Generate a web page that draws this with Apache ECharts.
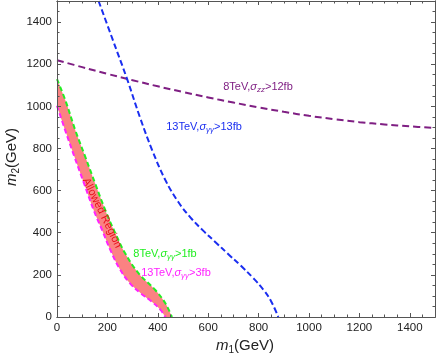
<!DOCTYPE html>
<html>
<head>
<meta charset="utf-8">
<script src="https://cdn.jsdelivr.net/npm/echarts@6/dist/echarts.min.js"></script>
<style>
html, body { margin: 0; padding: 0; background: #fff; }
#Chart { width: 436px; height: 354px; }
</style>
</head>
<body>
<div id="Chart"></div>
<script>
// 坐标范围与刻度
const axisRange = [0, 1500];
const majorStep = 200;
const minorStep = 50;

// 8TeV, sigma_zz > 12fb
const zz8 = [[0,1219],[100,1186],[200,1154],[300,1124],[400,1095],[500,1068],[600,1042],[700,1018],[800,995],[900,974],[1000,955],[1100,939],[1200,925],[1300,914],[1400,905],[1500,897]];
// 13TeV, sigma_yy > 13fb
const yy13_13 = [[165,1500],[220,1320],[278,1130],[330,945],[380,785],[430,650],[480,548],[530,472],[580,410],[630,354],[680,298],[730,243],[780,183],[820,128],[850,74],[878,0]];
// 8TeV, sigma_yy > 1fb
const yy8_1 = [[0,1129],[34,1026],[73,885],[113,758],[152,632],[192,506],[232,396],[271,301],[324,207],[390,128],[430,65],[456,0]];
// 13TeV, sigma_yy > 3fb
const yy13_3 = [[0,1003],[33,885],[70,758],[108,632],[146,506],[180,410],[211,320],[247,232],[288,162],[333,112],[374,75],[410,35],[430,0]];

const FONT = "'Liberation Sans', Arial, sans-serif";
const frameColor = "#555";

function frameAxis(position, step, tickLen, showLabel) {
  return {
    type: "value",
    position: position,
    min: axisRange[0],
    max: axisRange[1],
    interval: step,
    z: 5,
    axisLine: { show: true, onZero: false, lineStyle: { color: frameColor, width: 1 } },
    axisTick: { show: true, inside: true, length: tickLen, lineStyle: { color: frameColor, width: 1 } },
    axisLabel: {
      show: showLabel,
      showMaxLabel: false,
      margin: 5,
      fontSize: 11.5,
      fontFamily: FONT,
      color: "#222",
      formatter: function (v) { return String(v); }
    },
    splitLine: { show: false }
  };
}

function curve(name, data, color, dash) {
  return {
    type: "line",
    name: name,
    data: data,
    smooth: 0.4,
    showSymbol: false,
    silent: true,
    lineStyle: { color: color, width: 2, type: dash }
  };
}

// 曲线标注文字
function label(x, y, color, sub, tail, head) {
  return {
    type: "text",
    x: x,
    y: y,
    z: 20,
    silent: true,
    style: {
      text: "{n|" + head + "}{g|σ}{s|" + sub + "}{n|" + tail + "}",
      align: "center",
      verticalAlign: "middle",
      fill: color,
      rich: {
        n: { fontSize: 11, fontFamily: FONT, fill: color, lineHeight: 14 },
        g: { fontSize: 11, fontFamily: FONT, fontStyle: "italic", fill: color, lineHeight: 14 },
        s: { fontSize: 8, fontFamily: FONT, fontStyle: "italic", fill: color, lineHeight: 8, padding: [6, 0, 0, 0] }
      }
    }
  };
}

const nameRich = {
  i: { fontSize: 15, fontFamily: FONT, fontStyle: "italic", fill: "#222", lineHeight: 18 },
  s: { fontSize: 10, fontFamily: FONT, fill: "#222", lineHeight: 10, padding: [8, 0, 0, 0] },
  n: { fontSize: 15, fontFamily: FONT, fill: "#222", lineHeight: 18 }
};

const chart = echarts.init(document.getElementById("Chart"));
const option = {
  animation: false,
  grid: { left: 57, right: 1, top: 1, bottom: 37 },
  xAxis: [
    frameAxis("bottom", majorStep, 4, true),
    frameAxis("bottom", minorStep, 2.5, false),
    frameAxis("top", majorStep, 4, false),
    frameAxis("top", minorStep, 2.5, false)
  ],
  yAxis: [
    frameAxis("left", majorStep, 4, true),
    frameAxis("left", minorStep, 2.5, false),
    frameAxis("right", majorStep, 4, false),
    frameAxis("right", minorStep, 2.5, false)
  ],
  series: [
    // 允许区域：绿色曲线下方填充粉色，再用白色盖住品红曲线下方
    Object.assign(curve("8TeV 1fb", yy8_1, "#22ee22", [5, 3]), {
      areaStyle: { color: "#fb8282", opacity: 1 }
    }),
    Object.assign(curve("13TeV 3fb", yy13_3, "#ff22ff", [5, 3]), {
      areaStyle: { color: "#ffffff", opacity: 1 }
    }),
    curve("8TeV zz", zz8, "#7f1f83", [7, 4]),
    curve("13TeV 13fb", yy13_13, "#1a2ef0", [6, 3])
  ],
  graphic: [
    label(258, 87, "#7f1f83", "zz", ">12fb", "8TeV,"),
    label(204, 127, "#1a2ef0", "γγ", ">13fb", "13TeV,"),
    label(165, 254, "#22ee22", "γγ", ">1fb", "8TeV,"),
    label(176, 273, "#ff22ff", "γγ", ">3fb", "13TeV,"),
    {
      type: "text",
      x: 102,
      y: 213,
      z: 20,
      rotation: -64 * Math.PI / 180,
      silent: true,
      style: {
        text: "Allowed Region",
        align: "center",
        verticalAlign: "middle",
        fontSize: 11,
        fontFamily: FONT,
        fill: "#e8101a"
      }
    },
    {
      type: "text",
      x: 245,
      y: 346,
      z: 20,
      silent: true,
      style: { text: "{i|m}{s|1}{n|(GeV)}", align: "center", verticalAlign: "middle", rich: nameRich }
    },
    {
      type: "text",
      x: 12,
      y: 157,
      z: 20,
      rotation: Math.PI / 2,
      silent: true,
      style: { text: "{i|m}{s|2}{n|(GeV)}", align: "center", verticalAlign: "middle", rich: nameRich }
    }
  ]
};
chart.setOption(option);
</script>
</body>
</html>
